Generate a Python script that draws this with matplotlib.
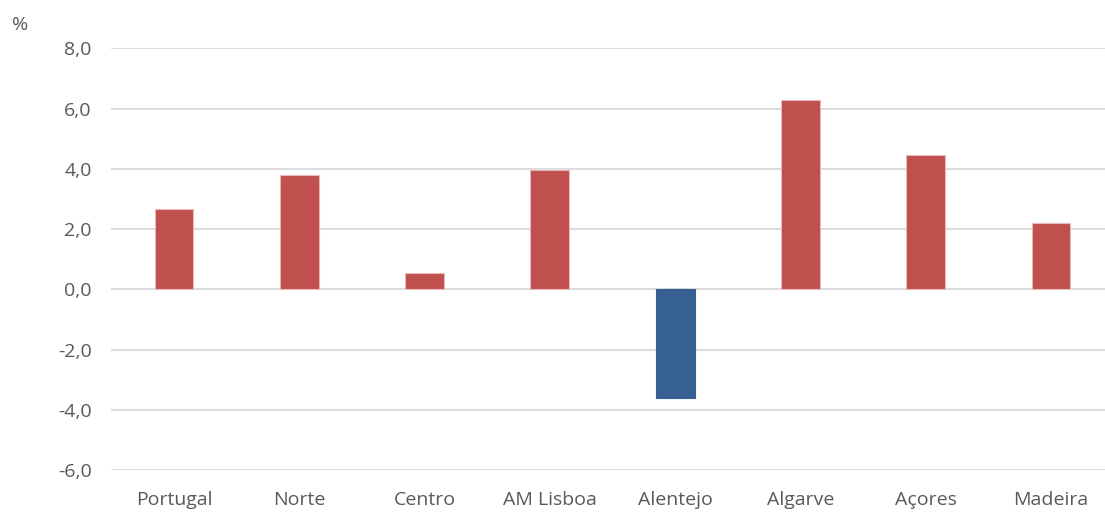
import matplotlib
matplotlib.use("Agg")
import matplotlib.pyplot as plt
import numpy as np

categories = ["Portugal", "Norte", "Centro", "AM Lisboa", "Alentejo", "Algarve", "Açores", "Madeira"]
values = [2.66, 3.80, 0.54, 3.97, -3.61, 6.28, 4.47, 2.21]
yticks = [-6, -4, -2, 0, 2, 4, 6, 8]
ytick_labels = ["-6,0", "-4,0", "-2,0", "0,0", "2,0", "4,0", "6,0", "8,0"]

red = "#C0504D"
blue = "#366092"
colors = [red if v >= 0 else blue for v in values]
edges = ["#E6B9B8" if v >= 0 else blue for v in values]

plt.rcParams['font.family'] = ['Open Sans', 'DejaVu Sans']

W, H = 1105, 513
fig = plt.figure(figsize=(W / 100, H / 100), dpi=100)
left, right = 111.3, 1113.7
top, bottom = 48.3, 470
ax = fig.add_axes([left / W, (H - bottom) / H, (right - left) / W, (bottom - top) / H])

x = np.arange(len(categories))
ax.bar(x, values, width=0.31, color=colors, edgecolor=edges, linewidth=0.8, zorder=3)

ax.set_xlim(-0.5, len(categories) - 0.5)
ax.set_ylim(-6, 8)
ax.set_yticks(yticks)
ax.set_yticklabels(ytick_labels)
ax.set_xticks(x)
ax.set_xticklabels(categories)

ax.yaxis.grid(True, color="#D9D9D9", linewidth=1.3, zorder=0)
ax.set_axisbelow(True)
for s in ax.spines.values():
    s.set_visible(False)
ax.tick_params(axis='both', length=0, labelsize=14, colors="#595959")
ax.tick_params(axis='y', pad=14)
ax.tick_params(axis='x', pad=15)

fig.text(12 / W, 1 - 25 / H, "%", fontsize=14, color="#595959", va="center", ha="left")

fig.savefig("out.png", dpi=100)
